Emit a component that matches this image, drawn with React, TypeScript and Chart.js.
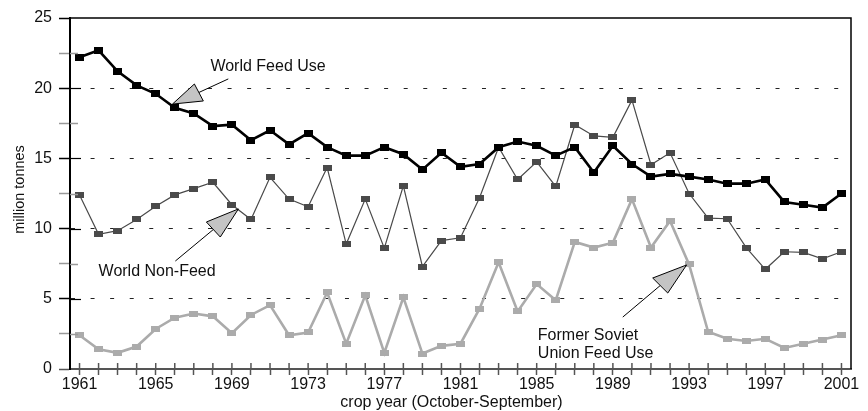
import { useEffect, useRef } from 'react';
import { Chart, registerables } from 'chart.js';

Chart.register(...registerables);

const years = [
  '1961', '1962', '1963', '1964', '1965', '1966', '1967', '1968', '1969', '1970',
  '1971', '1972', '1973', '1974', '1975', '1976', '1977', '1978', '1979', '1980',
  '1981', '1982', '1983', '1984', '1985', '1986', '1987', '1988', '1989', '1990',
  '1991', '1992', '1993', '1994', '1995', '1996', '1997', '1998', '1999', '2000', '2001',
];

const worldFeedUse = [
  22.2, 22.7, 21.2, 20.2, 19.6, 18.6, 18.2, 17.3, 17.4, 16.3,
  17.0, 16.0, 16.8, 15.8, 15.2, 15.2, 15.8, 15.3, 14.2, 15.4,
  14.4, 14.6, 15.8, 16.2, 15.9, 15.2, 15.8, 14.0, 15.9, 14.6,
  13.7, 13.9, 13.7, 13.5, 13.2, 13.2, 13.5, 11.9, 11.7, 11.5, 12.5,
];

const worldNonFeed = [
  12.4, 9.6, 9.85, 10.65, 11.6, 12.4, 12.85, 13.3, 11.7, 10.65,
  13.65, 12.1, 11.55, 14.35, 8.9, 12.1, 8.6, 13.05, 7.3, 9.15,
  9.35, 12.2, 15.8, 13.5, 14.75, 13.0, 17.4, 16.6, 16.5, 19.15,
  14.55, 15.4, 12.5, 10.75, 10.7, 8.65, 7.1, 8.35, 8.3, 7.85, 8.35,
];

const fsuFeedUse = [
  2.4, 1.4, 1.15, 1.6, 2.85, 3.65, 3.95, 3.75, 2.55, 3.85,
  4.55, 2.4, 2.6, 5.45, 1.8, 5.25, 1.15, 5.1, 1.1, 1.65,
  1.8, 4.3, 7.6, 4.1, 6.05, 4.9, 9.05, 8.65, 9.0, 12.1,
  8.65, 10.55, 7.45, 2.65, 2.15, 2.0, 2.15, 1.5, 1.8, 2.1, 2.4,
];

const labeledYearStep = 4;
const yMax = 25;
const yMinorStep = 2.5;
const yMajorStep = 5;

const yTitle = 'million tonnes';
const xTitle = 'crop year (October-September)';

// annotation callouts, positioned in data units (category index, value)
const callouts = [
  { lines: ['World Feed Use'], text: [6.87, 21.51], from: [7.81, 20.66], tip: [4.88, 18.87], b1: [6.03, 20.3], b2: [6.5, 19.09] },
  { lines: ['World Non-Feed'], text: [1.0, 6.91], from: [5.03, 7.69], tip: [8.34, 11.4], b1: [6.66, 10.47], b2: [7.39, 9.4] },
  { lines: ['Former Soviet', 'Union Feed Use'], text: [24.06, 2.35], from: [28.52, 3.7], tip: [31.87, 7.41], b1: [30.09, 6.48], b2: [30.88, 5.41] },
];

const FONT = '"Liberation Sans", Arial, Helvetica, sans-serif';

function marker(color: string, w: number, h: number) {
  const c = document.createElement('canvas');
  c.width = w;
  c.height = h;
  const g = c.getContext('2d')!;
  g.fillStyle = color;
  g.fillRect(0, 0, w, h);
  return c;
}

const overlay = {
  id: 'overlay',
  afterDraw(chart: any) {
    const { ctx, chartArea: a, scales } = chart;
    const x = scales.x;
    const y = scales.y;
    ctx.save();
    // frame top & right
    ctx.strokeStyle = '#000';
    ctx.lineWidth = 1.5;
    ctx.beginPath();
    ctx.moveTo(a.left, a.top);
    ctx.lineTo(a.right, a.top);
    ctx.lineTo(a.right, a.bottom);
    ctx.stroke();
    // inner y tick marks
    y.ticks.forEach((t: any) => {
      if (t.value <= 0 || t.value >= yMax) return;
      const py = Math.round(y.getPixelForValue(t.value)) + 0.5;
      const major = t.value % yMajorStep === 0;
      ctx.strokeStyle = major ? '#000' : '#999';
      ctx.lineWidth = major ? 1.2 : 1.5;
      ctx.beginPath();
      ctx.moveTo(a.left, py);
      ctx.lineTo(a.left + (major ? 11 : 8), py);
      ctx.stroke();
    });
    // inner x tick marks
    ctx.strokeStyle = '#555';
    ctx.lineWidth = 1.5;
    x.ticks.forEach((_t: any, i: number) => {
      const px = x.getPixelForTick(i);
      ctx.beginPath();
      ctx.moveTo(px, a.bottom - 6);
      ctx.lineTo(px, a.bottom);
      ctx.stroke();
    });
    // axis titles
    ctx.fillStyle = '#111';
    ctx.textBaseline = 'middle';
    ctx.textAlign = 'center';
    ctx.font = `16px ${FONT}`;
    ctx.fillText(xTitle, (a.left + a.right) / 2 - 9, 403);
    ctx.save();
    ctx.translate(20, (a.top + a.bottom) / 2 - 4);
    ctx.rotate(-Math.PI / 2);
    ctx.font = `14.5px ${FONT}`;
    ctx.fillText(yTitle, 0, 0);
    ctx.restore();
    // callouts
    const P = (p: number[]) => [x.getPixelForValue(p[0]), y.getPixelForValue(p[1])];
    callouts.forEach((c) => {
      const [tx, ty] = P(c.text);
      ctx.font = `16px ${FONT}`;
      ctx.textAlign = 'left';
      ctx.fillStyle = '#111';
      c.lines.forEach((ln, k) => ctx.fillText(ln, tx, ty + k * 18));
      const f = P(c.from);
      const tip = P(c.tip);
      const b1 = P(c.b1);
      const b2 = P(c.b2);
      ctx.strokeStyle = '#000';
      ctx.lineWidth = 1;
      ctx.beginPath();
      ctx.moveTo(f[0], f[1]);
      ctx.lineTo((b1[0] + b2[0]) / 2, (b1[1] + b2[1]) / 2);
      ctx.stroke();
      ctx.beginPath();
      ctx.moveTo(tip[0], tip[1]);
      ctx.lineTo(b1[0], b1[1]);
      ctx.lineTo(b2[0], b2[1]);
      ctx.closePath();
      ctx.fillStyle = '#c4c4c4';
      ctx.fill();
      ctx.stroke();
    });
    ctx.restore();
  },
};

export default function App() {
  const ref = useRef<HTMLCanvasElement>(null);
  useEffect(() => {
    document.body.style.margin = '0';
    const canvas = ref.current!;
    const chart = new Chart(canvas, {
      type: 'line',
      data: {
        labels: years,
        datasets: [
          {
            label: 'World Feed Use',
            data: worldFeedUse,
            borderColor: '#000',
            borderWidth: 2.6,
            pointStyle: marker('#000', 9, 7) as any,
            pointRadius: 3,
            tension: 0,
          },
          {
            label: 'World Non-Feed',
            data: worldNonFeed,
            borderColor: '#4a4a4a',
            borderWidth: 1.2,
            pointStyle: marker('#4a4a4a', 9, 6) as any,
            pointRadius: 3,
            tension: 0,
          },
          {
            label: 'Former Soviet Union Feed Use',
            data: fsuFeedUse,
            borderColor: '#ababab',
            borderWidth: 2.6,
            pointStyle: marker('#ababab', 9, 6) as any,
            pointRadius: 3,
            tension: 0,
          },
        ],
      },
      options: {
        responsive: false,
        animation: false,
        devicePixelRatio: 1,
        layout: { padding: { top: 18, right: 17, left: 0, bottom: 0 } },
        plugins: { legend: { display: false }, tooltip: { enabled: false } },
        scales: {
          x: {
            type: 'category',
            offset: true,
            afterFit: (s: any) => { s.height = 42; },
            grid: {
              display: true,
              drawOnChartArea: false,
              offset: false,
              tickLength: 6,
              tickColor: '#555',
              tickWidth: 1.5,
            },
            border: { color: '#555', width: 2 },
            ticks: {
              autoSkip: false,
              maxRotation: 0,
              padding: 0,
              color: '#111',
              font: { family: FONT, size: 16 },
              callback: (_v: any, i: number) => (i % labeledYearStep === 0 ? years[i] : ''),
            },
          },
          y: {
            min: 0,
            max: yMax,
            afterFit: (s: any) => { s.width = 70; },
            grid: {
              color: (c: any) => {
                const v = c.tick?.value;
                if (v === undefined || v <= 0 || v >= yMax) return 'rgba(0,0,0,0)';
                return v % yMajorStep === 0 ? '#222' : 'rgba(0,0,0,0)';
              },
              lineWidth: 1,
              tickLength: 11,
              tickBorderDash: [],
              tickWidth: 1.5,
              tickColor: (c: any) => {
                const v = c.tick?.value;
                if (v === 0) return '#555';
                return v % yMajorStep === 0 ? '#000' : '#999';
              },
            },
            border: { color: '#000', width: 2, dash: [4, 15.57] },
            ticks: {
              stepSize: yMinorStep,
              padding: 7,
              color: '#111',
              font: { family: FONT, size: 16 },
              callback: (v: any) => (Number(v) % yMajorStep === 0 ? String(v) : ''),
            },
          },
        },
      },
      plugins: [overlay],
    });
    return () => chart.destroy();
  }, []);
  return (
    <div style={{ width: 868, height: 411 }}>
      <canvas ref={ref} width={868} height={411} style={{ display: 'block' }} />
    </div>
  );
}
